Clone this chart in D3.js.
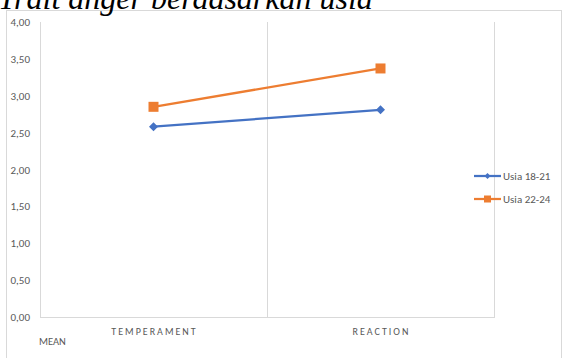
<!DOCTYPE html>
<html>
<head>
<meta charset="utf-8">
<script src="https://d3js.org/d3.v7.min.js"></script>
<style>
  html, body { margin: 0; padding: 0; background: #fff; overflow: hidden; }
  text { font-family: Carlito, Lato, "Liberation Sans", sans-serif; }
</style>
</head>
<body>
<svg id="chart" width="563" height="358"></svg>
<script>
const categories = ['TEMPERAMENT', 'REACTION'];
const seriesNames = ['Usia 18-21', 'Usia 22-24'];
const usia1821 = [2.58, 2.81];
const usia2224 = [2.85, 3.37];
const yTicks = [0, 0.5, 1, 1.5, 2, 2.5, 3, 3.5, 4];
const colors = ['#4472c4', '#ed7d31'];

const svg = d3.select('#chart');

// outer chart frame
svg.append('rect')
    .attr('x', 6.5).attr('y', 10.5)
    .attr('width', 555).attr('height', 350)
    .attr('fill', 'none').attr('stroke', '#d9d9d9');

// cut-off title above the frame
svg.append('text')
    .attr('x', -2).attr('y', 9)
    .style('font-family', '"Liberation Serif", "Times New Roman", serif')
    .style('font-style', 'italic')
    .style('font-size', '32px')
    .attr('fill', '#000')
    .text('Trait anger berdasarkan usia');

const plot = {left: 40, right: 494, top: 22, bottom: 317};

const x = d3.scaleBand().domain(categories).range([plot.left, plot.right]);
const y = d3.scaleLinear().domain([0, 4]).range([plot.bottom, plot.top]);

// y axis labels
svg.append('g').selectAll('text')
    .data(yTicks).join('text')
    .attr('x', 30).attr('y', d => y(d) + 4)
    .attr('text-anchor', 'end')
    .attr('fill', '#595959')
    .style('font-size', '11px')
    .text(d => d3.format('.2f')(d).replace('.', ','));

// vertical category dividers
const dividers = [plot.left, x(categories[1]), plot.right];
svg.append('g').selectAll('line')
    .data(dividers).join('line')
    .attr('x1', d => Math.round(d) + 0.5).attr('x2', d => Math.round(d) + 0.5)
    .attr('y1', plot.top).attr('y2', plot.bottom)
    .attr('stroke', '#d9d9d9');

// baseline
svg.append('line')
    .attr('x1', plot.left).attr('x2', plot.right + 1)
    .attr('y1', plot.bottom + 0.5).attr('y2', plot.bottom + 0.5)
    .attr('stroke', '#d9d9d9');

// category labels
svg.append('g').selectAll('text')
    .data(categories).join('text')
    .attr('x', d => x(d) + x.bandwidth() / 2 + 1)
    .attr('y', 334.5)
    .attr('text-anchor', 'middle')
    .attr('fill', '#595959')
    .style('font-size', '10px')
    .style('letter-spacing', '2px')
    .text(d => d);

svg.append('text')
    .attr('x', 39).attr('y', 345)
    .attr('fill', '#595959')
    .style('font-size', '10.5px')
    .text('MEAN');

const series = [usia1821, usia2224];
const line = d3.line()
    .x((d, i) => x(categories[i]) + x.bandwidth() / 2)
    .y(d => y(d));

series.forEach((vals, s) => {
    svg.append('path')
        .datum(vals)
        .attr('d', line)
        .attr('fill', 'none')
        .attr('stroke', colors[s])
        .attr('stroke-width', 2.25);
    const g = svg.append('g').selectAll('path')
        .data(vals).join('path')
        .attr('transform', (d, i) => `translate(${x(categories[i]) + x.bandwidth() / 2},${y(d)})`)
        .attr('fill', colors[s]);
    if (s === 0) g.attr('d', 'M0,-4.5L4.5,0L0,4.5L-4.5,0Z');
    else g.attr('d', 'M-5,-5H5V5H-5Z');
});

// legend
const legend = svg.append('g');
seriesNames.forEach((name, s) => {
    const ly = 176 + s * 23;
    legend.append('line')
        .attr('x1', 474).attr('x2', 501)
        .attr('y1', ly).attr('y2', ly)
        .attr('stroke', colors[s]).attr('stroke-width', 2.25);
    legend.append('path')
        .attr('transform', `translate(487.5,${ly})`)
        .attr('fill', colors[s])
        .attr('d', s === 0 ? 'M0,-3L3,0L0,3L-3,0Z' : 'M-3.5,-3.5H3.5V3.5H-3.5Z');
    legend.append('text')
        .attr('x', 503).attr('y', ly + 4)
        .attr('fill', '#595959')
        .style('font-size', '11px')
        .text(name);
});
</script>
</body>
</html>
